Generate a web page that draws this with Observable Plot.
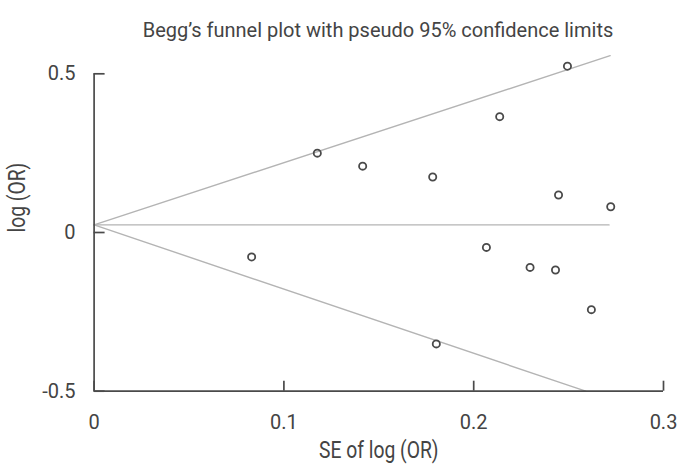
<!DOCTYPE html>
<html>
<head>
<meta charset="utf-8">
<script src="https://cdn.jsdelivr.net/npm/d3@7"></script>
<script src="https://cdn.jsdelivr.net/npm/@observablehq/plot@0.6"></script>
<style>
  html, body { margin: 0; padding: 0; background: #fff; }
  #chart { width: 684px; font-family: Roboto, sans-serif; color: #444; }
  #title { height: 52px; box-sizing: border-box; padding-top: 18px; padding-left: 93px; width: 684px;
           text-align: left; font-size: 20px; line-height: 24px; color: #444; }
  #title span { display: inline-block; width: 570px; text-align: center; }
  svg { display: block; }
</style>
</head>
<body>
<div id="chart">
  <div id="title"><span>Begg’s funnel plot with pseudo 95% confidence limits</span></div>
</div>
<script>
// Standard error of log(OR) for each study
const se = [0.083, 0.1176, 0.1415, 0.1784, 0.2137, 0.2494, 0.2447, 0.2722, 0.2067, 0.2297, 0.2431, 0.2620, 0.1803];
// log(OR) for each study
const logOR = [-0.077, 0.250, 0.209, 0.175, 0.365, 0.524, 0.118, 0.081, -0.047, -0.110, -0.118, -0.243, -0.351];

// Pooled estimate and pseudo 95% confidence limits (end points)
const pooledSE = [0, 0.2713];
const pooledY = [0.024, 0.024];
const upperSE = [0, 0.2719];
const upperY = [0.024, 0.557];
const lowerSE = [0, 0.259];
const lowerY = [0.024, -0.5];

// Axis ticks and labels
const xTicks = [0, 0.1, 0.2, 0.3];
const xTickLabels = ["0", "0.1", "0.2", "0.3"];
const yTicks = [-0.5, 0, 0.5];
const yTickLabels = ["-0.5", "0", "0.5"];
const xTitle = "SE of log (OR)";
const yTitle = "log (OR)";

const studies = se.map((s, i) => ({se: s, y: logOR[i]}));
const line = (xs, ys) => xs.map((x, i) => ({x, y: ys[i]}));

const axisColor = "#4a4a4a";
const limitColor = "#b4b4b4";
const textColor = "#444";

const chart = Plot.plot({
  width: 684,
  height: 417,
  marginLeft: 93.6,
  marginRight: 21,
  marginTop: 21.3,
  marginBottom: 78.3,
  style: {fontFamily: "Roboto, sans-serif", fontSize: "20px", color: textColor, background: "#fff"},
  x: {domain: [0, 0.3], axis: null},
  y: {domain: [-0.5, 0.5], axis: null},
  marks: [
    // pooled estimate and confidence limits
    Plot.line(line(pooledSE, pooledY), {x: "x", y: "y", stroke: limitColor, strokeWidth: 1.4}),
    Plot.line(line(upperSE, upperY), {x: "x", y: "y", stroke: limitColor, strokeWidth: 1.4}),
    Plot.line(line(lowerSE, lowerY), {x: "x", y: "y", stroke: limitColor, strokeWidth: 1.4}),
    // axes
    Plot.ruleX([0], {y1: -0.5, y2: 0.5, stroke: axisColor, strokeWidth: 1.7}),
    Plot.ruleY([-0.5], {x1: 0, x2: 0.3, stroke: axisColor, strokeWidth: 1.7}),
    Plot.axisX({ticks: xTicks, tickFormat: (d, i) => xTickLabels[i], tickSize: -10, tickPadding: 34,
                stroke: axisColor, strokeWidth: 1.7, fill: textColor, label: null}),
    Plot.axisY({ticks: yTicks, tickFormat: (d, i) => yTickLabels[i], tickSize: -11, tickPadding: 29.6,
                stroke: axisColor, strokeWidth: 1.7, fill: textColor, label: null}),
    // axis titles (narrowed below)
    Plot.text([xTitle], {frameAnchor: "bottom", dy: 67, fill: textColor, fontSize: 23, text: d => d}),
    Plot.text([yTitle], {frameAnchor: "left", dx: -76, rotate: -90, fill: textColor, fontSize: 23, text: d => d}),
    // studies
    Plot.dot(studies, {x: "se", y: "y", r: 3.6, stroke: "#4a4a4a", strokeWidth: 1.8, fill: "none"})
  ]
});

// condensed look for the axis titles
d3.select(chart).selectAll('g[aria-label="text"] text').each(function() {
  const t = this.getAttribute("transform") || "";
  this.setAttribute("transform", t + " scale(0.84,1)");
});

document.getElementById("chart").appendChild(chart);
</script>
</body>
</html>
